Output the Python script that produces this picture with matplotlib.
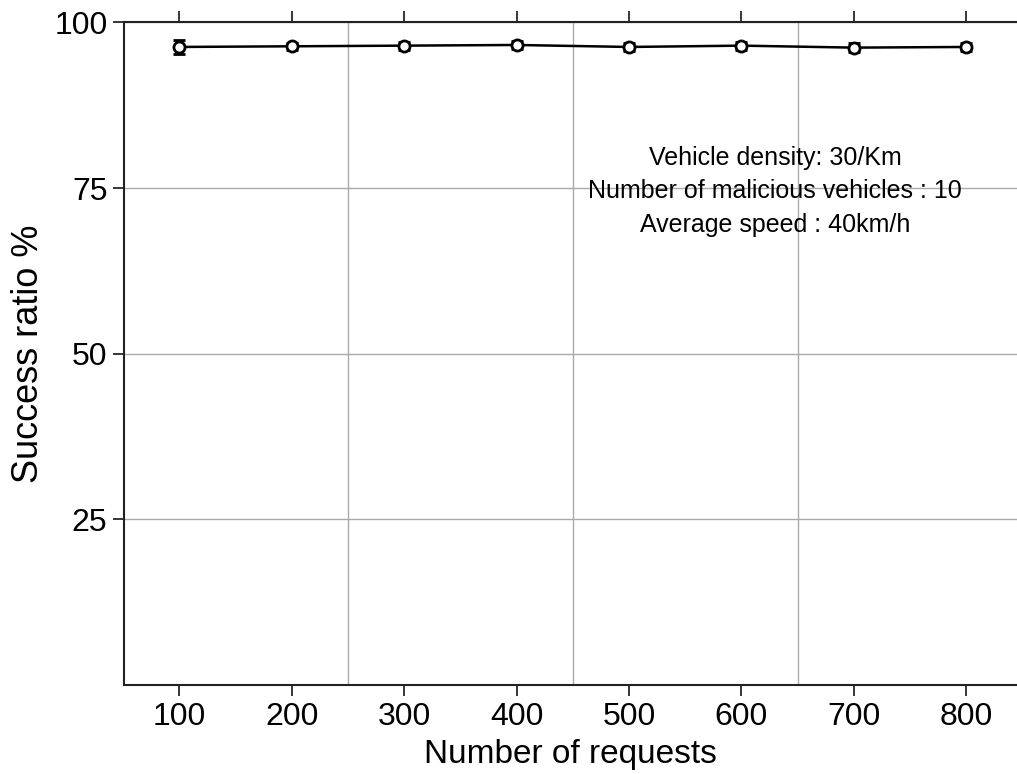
import numpy as np
import matplotlib.pyplot as plt

# Number of requests and measured success ratio (%)
requests = [100, 200, 300, 400, 500, 600, 700, 800]
success_ratio = [96.3, 96.4, 96.5, 96.6, 96.3, 96.5, 96.2, 96.3]
ratio_err = [1.0, 0.5, 0.6, 0.6, 0.6, 0.6, 0.7, 0.6]

plt.rcParams['font.family'] = ['Liberation Sans', 'DejaVu Sans']

fig = plt.figure(figsize=(10.17, 7.74), dpi=100)
ax = fig.add_axes([0.122, 0.115, 0.878, 0.856])

ax.errorbar(requests, success_ratio, yerr=ratio_err, color='black', linewidth=1.8,
            marker='o', markersize=8, markerfacecolor='white', markeredgecolor='black',
            markeredgewidth=2, capsize=4, capthick=2, elinewidth=2, zorder=10)

ax.set_xlim(51, 845)
ax.set_ylim(0, 100)
ax.set_xticks(requests)
ax.set_yticks([25, 50, 75, 100])
ax.set_xticks([250, 450, 650], minor=True)

# grid: horizontal at major y ticks, vertical between x ticks
ax.grid(axis='y', which='major', color='#aaaaaa', linewidth=1)
ax.grid(axis='x', which='minor', color='#aaaaaa', linewidth=1)
ax.tick_params(axis='x', which='minor', length=0)
ax.tick_params(axis='both', which='major', labelsize=23, direction='out',
               length=8, width=1.1, pad=4, top=True, labeltop=False)

for side in ['left', 'bottom', 'top']:
    ax.spines[side].set_linewidth(1.5)
    ax.spines[side].set_color('#222222')
ax.spines['right'].set_visible(False)

ax.set_xlabel("Number of requests", fontsize=24, labelpad=5)
ax.set_ylabel("Success ratio %", fontsize=26, labelpad=6)

ax.text(630, 74.5, "Vehicle density: 30/Km\nNumber of malicious vehicles : 10\nAverage speed : 40km/h",
        ha='center', va='center', fontsize=18, linespacing=1.5)

plt.savefig("out.png", dpi=100)
plt.close()
